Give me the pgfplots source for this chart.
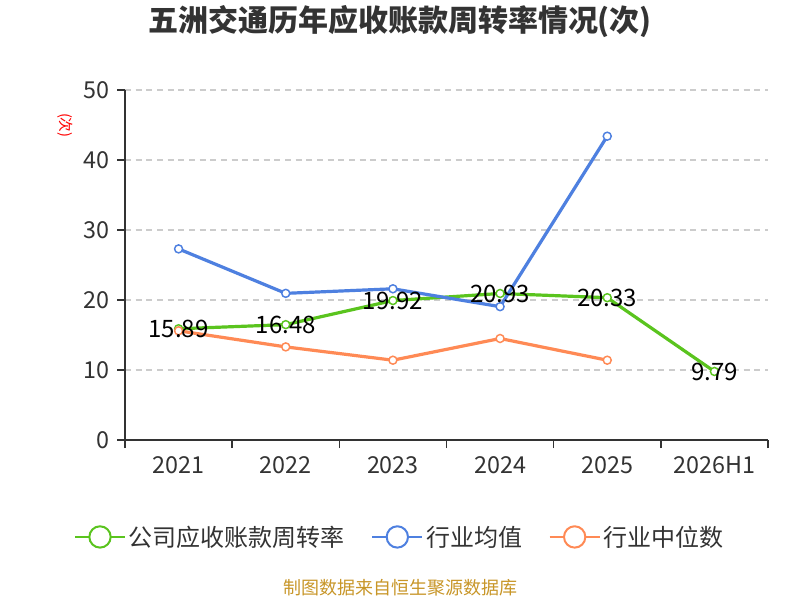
\documentclass[border=0pt]{standalone}
\usepackage{pgfplots}
\pgfplotsset{compat=1.18}
\usepackage{fontspec}
\setmainfont{Noto Sans CJK SC}
\definecolor{cgreen}{RGB}{90,196,30}
\definecolor{cblue}{RGB}{78,128,224}
\definecolor{corange}{RGB}{255,138,85}
\definecolor{ctext}{RGB}{51,51,51}
\definecolor{cgrid}{RGB}{204,204,204}
\definecolor{csrc}{RGB}{200,150,40}
\begin{document}
\begin{tikzpicture}
\path[use as bounding box, fill=white] (0,0) rectangle (600pt,450pt);
\node[font=\fontsize{22.5}{24}\selectfont\bfseries, text=ctext] at (300pt,433.5pt) {五洲交通历年应收账款周转率情况(次)};
\node[font=\fontsize{11}{12}\selectfont, text=red, rotate=-90] at (48.75pt,356pt) {(次)};
\node[font=\fontsize{13.5}{14}\selectfont, text=csrc] at (300pt,9pt) {制图数据来自恒生聚源数据库};
\begin{axis}[
  at={(93.75pt,120pt)}, anchor=south west,
  scale only axis, width=482.25pt, height=262.5pt,
  xmin=-0.5, xmax=5.5, ymin=0, ymax=50,
  axis x line=bottom, axis y line=left,
  axis line style={-, draw=ctext, line width=1.1pt},
  ytick={0,10,...,50},
  xtick={-0.5,0.5,...,5.5}, xticklabels={},
  extra x ticks={0,1,2,3,4,5},
  extra x tick labels={2021,2022,2023,2024,2025,2026H1},
  extra x tick style={major tick length=0pt, grid=none, xticklabel style={yshift=-9pt}},
  tick align=outside, major tick length=6pt,
  tick style={draw=ctext, line width=1.1pt},
  ymajorgrids, grid style={cgrid, line width=1.1pt, dash pattern=on 4.5pt off 3.5pt},
  ticklabel style={font=\fontsize{17.5}{18}\selectfont, text=ctext},
  yticklabel style={xshift=-2pt},
  /pgf/number format/assume math mode=true,
  clip=false,
  legend columns=3,
  legend style={at={(0.4277,-0.277)}, anchor=center, draw=none, fill=none,
    font=\fontsize{18}{20}\selectfont, text=ctext,
    /tikz/every even column/.append style={column sep=18pt}},
  legend image code/.code={
    \draw[#1, line width=1.5pt, mark=none] (0pt,0pt) -- (37.5pt,0pt);
    \draw[#1, line width=1.5pt, fill=white, mark=none] (18.75pt,0pt) circle (8pt);
  },
]
\addplot[cgreen, line width=2.4pt, mark=*, mark size=3pt, mark options={fill=white, line width=1.1pt}]
  coordinates {(0,15.89) (1,16.48) (2,19.92) (3,20.93) (4,20.33) (5,9.79)};
\addlegendentry{公司应收账款周转率}
\addplot[cblue, line width=2.4pt, mark=*, mark size=3pt, mark options={fill=white, line width=1.1pt}]
  coordinates {(0,27.3) (1,20.95) (2,21.6) (3,19.05) (4,43.4)};
\addlegendentry{行业均值}
\addplot[corange, line width=2.4pt, mark=*, mark size=3pt, mark options={fill=white, line width=1.1pt}]
  coordinates {(0,15.6) (1,13.3) (2,11.4) (3,14.5) (4,11.4)};
\addlegendentry{行业中位数}
\addplot[draw=none, mark=none, forget plot, point meta=explicit symbolic,
  nodes near coords, nodes near coords align=center,
  every node near coord/.style={anchor=center, font=\fontsize{18}{19}\selectfont, text=black}]
  coordinates {(0,15.89)[15.89] (1,16.48)[16.48] (2,19.92)[19.92] (3,20.93)[20.93] (4,20.33)[20.33] (5,9.79)[9.79]};
\end{axis}
\end{tikzpicture}
\end{document}
